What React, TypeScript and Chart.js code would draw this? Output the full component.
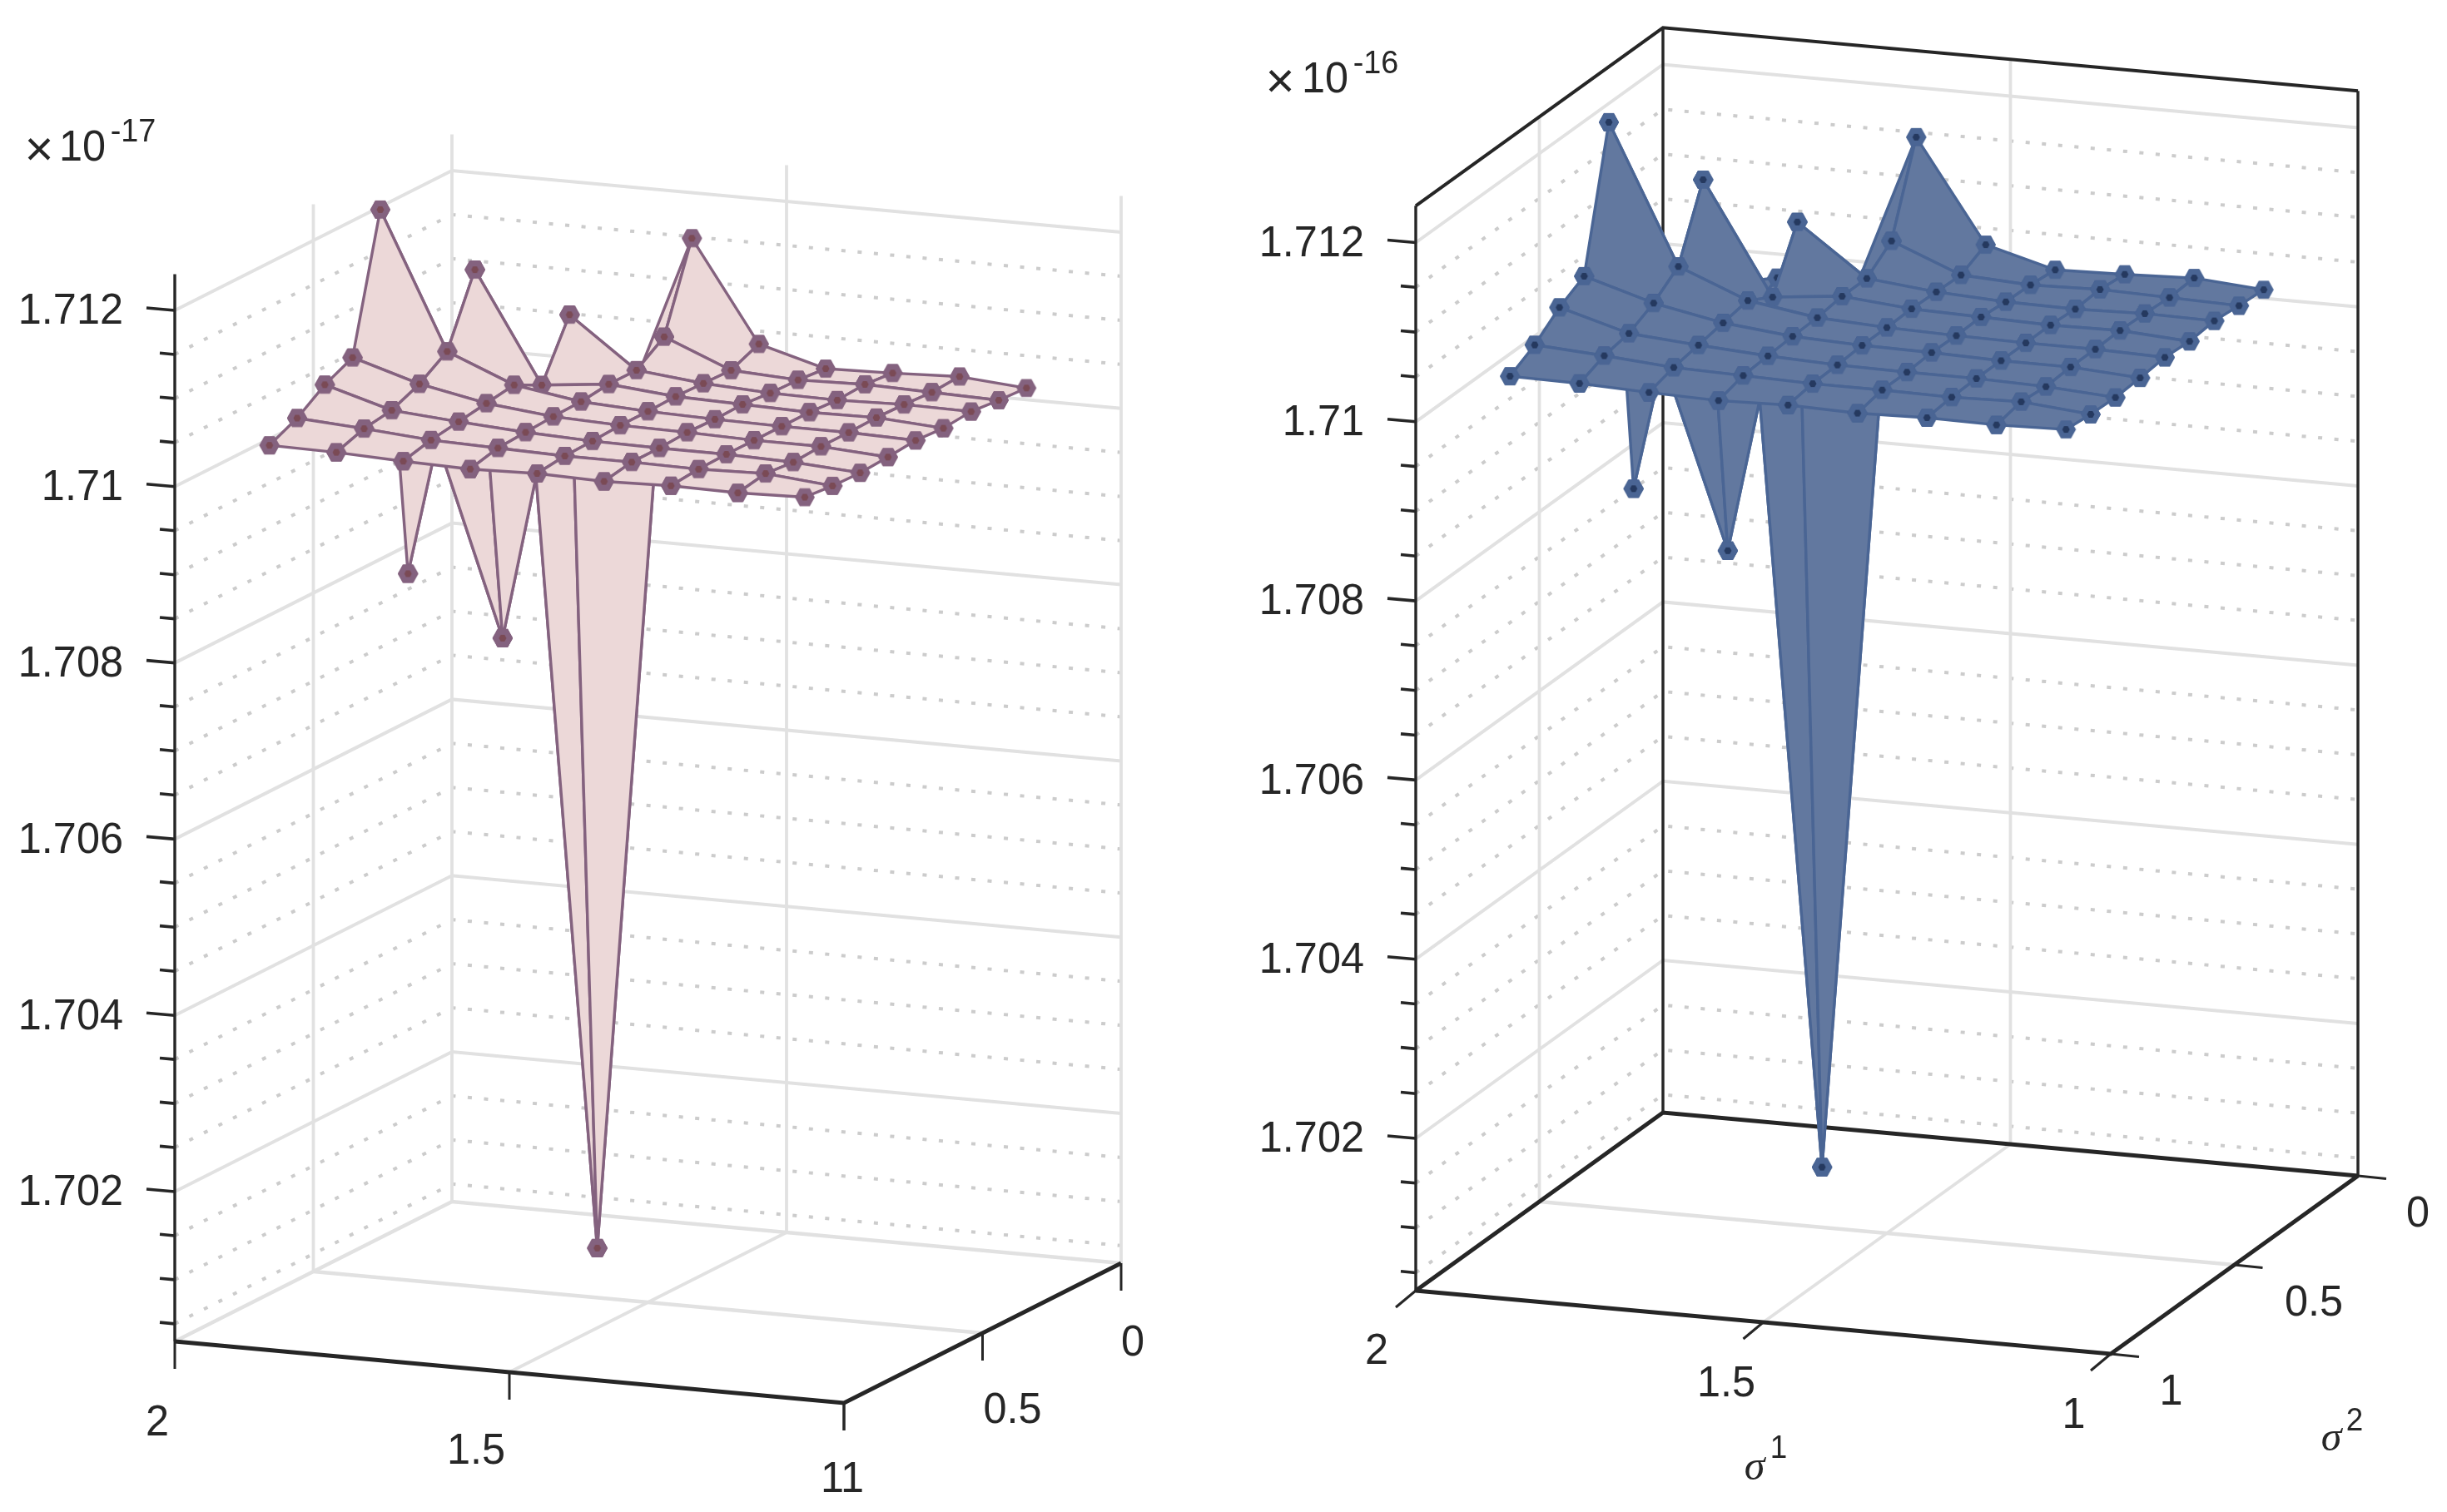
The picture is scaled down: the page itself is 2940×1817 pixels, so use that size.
import React, { useEffect, useRef } from "react";
import Chart from "chart.js/auto";
import { LineController } from "chart.js";

// ---------- data ----------
const sigma1Grid = [1.9, 1.8, 1.7, 1.6, 1.5, 1.4, 1.3, 1.2, 1.1];
const sigma2Grid = [0.9, 0.8, 0.7, 0.6, 0.5, 0.4, 0.3, 0.2, 0.1];

// one row per sigma2 value, one column per sigma1 value (mantissa of the axis multiplier)
const row0 = [1.71038, 1.71037, 1.71034, 1.71032, 1.71034, 1.71032, 1.71034, 1.71033, 1.71035];
const row1 = [1.71053, 1.71048, 1.71042, 1.7104, 1.71038, 1.71038, 1.71037, 1.71039, 1.71032];
const row2 = [1.71075, 1.71053, 1.71047, 1.71042, 1.71039, 1.71038, 1.71038, 1.71036, 1.71031];
const row3 = [1.7109, 1.71067, 1.71052, 1.71044, 1.71041, 1.7104, 1.71038, 1.71038, 1.71033];
const row4 = [1.71242, 1.71088, 1.71057, 1.71045, 1.71041, 1.71039, 1.71038, 1.71038, 1.71036];
const row5 = [1.70813, 1.71165, 1.71041, 1.71049, 1.71042, 1.7104, 1.71038, 1.71039, 1.71034];
const row6 = [1.70953, 1.70731, 1.71105, 1.71049, 1.71041, 1.71037, 1.71036, 1.71038, 1.71037];
const row7 = [1.7099, 1.70979, 1.7003, 1.71071, 1.7104, 1.71036, 1.71038, 1.71036, 1.71034];
const row8 = [1.7098, 1.70996, 1.70967, 1.71167, 1.71054, 1.71033, 1.71035, 1.71038, 1.71032];
const surfaceRows = [row0, row1, row2, row3, row4, row5, row6, row7, row8];

const zMajorTicks = [1.702, 1.704, 1.706, 1.708, 1.71, 1.712];
const zMajorLabels = ["1.702", "1.704", "1.706", "1.708", "1.71", "1.712"];
const zMinorTicks = [1.7005, 1.701, 1.7015, 1.7025, 1.703, 1.7035, 1.7045, 1.705, 1.7055, 1.7065, 1.707, 1.7075, 1.7085, 1.709, 1.7095, 1.7105, 1.711, 1.7115];
const sigma1Ticks = [2, 1.5, 1];
const sigma1Labels = ["2", "1.5", "1"];
const sigma2Ticks = [1, 0.5, 0];
const sigma2Labels = ["1", "0.5", "0"];
const zMin = 1.7003;
const zMax = 1.71241;

// ---------- panels (styles and view of the 3D box) ----------
const leftPanel = {
  range: [0, 1470],
  ox: 210, oy: 1432, ux: 804, uy: 74, vx: 333, vy: -168, zs: 105900,
  fill: "#ECD8D8", edge: "#84627F", markerInner: "#7A4A55",
  box: false,
  zTick: [-34, -3], zMinor: [-18, -1.7],
  s1Tick: [0, 33], s2Tick: [0, 33],
  s1Off: [[-21, 97], [-40, 94], [-14, 91]],
  s2Off: [[10, 91], [36, 92], [14, 95]],
  exponent: "-17",
  exp: { times: [47, 182], ten: [99, 179], sup: [160, 159] },
  axisLabels: false,
};
const rightPanel = {
  range: [1470, 2940],
  ox: 1701, oy: 1368, ux: 835, uy: 76, vx: 297, vy: -214, zs: 107650,
  fill: "#62789F", edge: "#4A6594", markerInner: "#25395F",
  box: true,
  zTick: [-34, -3], zMinor: [-18, -1.7],
  s1Tick: [-24, 20], s2Tick: [34, 3.5],
  s1Off: [[-47, 72], [-44.5, 72.4], [-44.5, 72.4]],
  s2Off: [[72.5, 44.4], [95.5, 44.4], [72, 44.4]],
  exponent: "-16",
  exp: { times: [1538, 100], ten: [1592, 97], sup: [1653, 77] },
  axisLabels: true,
};

const INK = "#262626";
const GRID = "#E1E1E1";
const DOTS = "#CCCCCC";
const FONT = '"Liberation Sans", Arial, sans-serif';

type Panel = typeof leftPanel;

function project(p: Panel, s1: number, s2: number, z: number) {
  const u = 2 - s1;
  const v = 1 - s2;
  return {
    x: p.ox + u * p.ux + v * p.vx,
    y: p.oy + u * p.uy + v * p.vy - (z - 1.702) * p.zs,
  };
}

// Filled quadrilateral of the surface: fills the polygon of its own points, then lets LineController draw outline and markers.
class SurfacePatchController extends LineController {
  static id = "surfacePatch";
  draw() {
    const pts = this.getMeta().data as any[];
    const ctx = this.chart.ctx;
    ctx.save();
    ctx.beginPath();
    pts.forEach((pt, k) => (k ? ctx.lineTo(pt.x, pt.y) : ctx.moveTo(pt.x, pt.y)));
    ctx.closePath();
    ctx.fillStyle = (this.getDataset() as any).patchFill;
    ctx.fill();
    ctx.restore();
    super.draw();
  }
}
Chart.register(SurfacePatchController);

function hexagonMarker(p: Panel) {
  const c = document.createElement("canvas");
  c.width = 28;
  c.height = 28;
  const g = c.getContext("2d")!;
  const hex = (r: number, color: string) => {
    g.beginPath();
    for (let a = 0; a < 6; a++) {
      const t = (a * Math.PI) / 3;
      g.lineTo(14 + r * Math.cos(t), 14 + 1.03 * r * Math.sin(t));
    }
    g.closePath();
    g.fillStyle = color;
    g.fill();
  };
  hex(12, p.edge);
  hex(4.5, p.markerInner);
  return c;
}

function line(points: { x: number; y: number }[], color: string, width: number, dash: number[] = []) {
  return {
    type: "line" as const,
    data: points,
    borderColor: color,
    borderWidth: width,
    borderDash: dash,
    pointRadius: 0,
    fill: false,
    tension: 0,
  };
}

function buildDatasets(p: Panel) {
  const ds: any[] = [];
  const at = (s1: number, s2: number, z: number) => project(p, s1, s2, z);
  // walls: horizontal lines
  const wall = (z: number, color: string, w: number, dash: number[] = []) =>
    ds.push(line([at(2, 1, z), at(2, 0, z), at(1, 0, z)], color, w, dash));
  zMinorTicks.forEach((z) => wall(z, DOTS, 4, [5, 14.6]));
  zMajorTicks.forEach((z) => wall(z, GRID, 4));
  // walls: vertical lines
  const vert = (s1: number, s2: number) => ds.push(line([at(s1, s2, zMin), at(s1, s2, zMax)], GRID, 3.8));
  vert(2, 0.5);
  vert(1.5, 0);
  if (!p.box) {
    vert(2, 0);
    vert(1, 0);
  }
  // floor
  ds.push(line([at(1.5, 1, zMin), at(1.5, 0, zMin)], GRID, 3.8));
  ds.push(line([at(2, 0.5, zMin), at(1, 0.5, zMin)], GRID, 4.4));
  if (!p.box) {
    ds.push(line([at(2, 1, zMin), at(2, 0, zMin), at(1, 0, zMin)], GRID, 4.4));
  } else {
    ds.push(line([at(2, 1, zMin), at(2, 0, zMin), at(1, 0, zMin)], INK, 5));
    ds.push(line([at(2, 1, zMax), at(2, 0, zMax), at(1, 0, zMax)], INK, 4));
    ds.push(line([at(2, 0, zMin), at(2, 0, zMax)], INK, 3.4));
    ds.push(line([at(1, 0, zMin), at(1, 0, zMax)], INK, 3.4));
  }
  // axes
  ds.push(line([at(2, 1, zMin), at(2, 1, zMax)], INK, 3.4));
  ds.push(line([at(2, 1, zMin), at(1, 1, zMin), at(1, 0, zMin)], INK, 5));
  const tick = (o: { x: number; y: number }, d: number[], w: number) =>
    ds.push(line([o, { x: o.x + d[0], y: o.y + d[1] }], INK, w));
  zMajorTicks.forEach((z) => tick(at(2, 1, z), p.zTick, 3.6));
  zMinorTicks.forEach((z) => tick(at(2, 1, z), p.zMinor, 3.6));
  sigma1Ticks.forEach((s) => tick(at(s, 1, zMin), p.s1Tick, 3));
  sigma2Ticks.forEach((s) => tick(at(1, s, zMin), p.s2Tick, 3));
  // surface, back to front
  const marker = hexagonMarker(p);
  for (let j = sigma2Grid.length - 2; j >= 0; j--) {
    for (let i = 0; i < sigma1Grid.length - 1; i++) {
      const c = (a: number, b: number) => at(sigma1Grid[a], sigma2Grid[b], surfaceRows[b][a]);
      ds.push({
        type: "surfacePatch",
        data: [c(i, j), c(i + 1, j), c(i + 1, j + 1), c(i, j + 1), c(i, j)],
        patchFill: p.fill,
        borderColor: p.edge,
        borderWidth: 3.4,
        borderJoinStyle: "round",
        fill: false,
        tension: 0,
        pointStyle: marker,
        pointRadius: 12,
      });
    }
  }
  // Chart.js paints the first dataset on top, so the list goes front to back.
  return ds.reverse();
}

function labelsPlugin(p: Panel) {
  return {
    id: "axisText",
    afterDraw(chart: any) {
      const { ctx, scales } = chart;
      const X = (v: number) => scales.x.getPixelForValue(v);
      const Y = (v: number) => scales.y.getPixelForValue(v);
      ctx.save();
      ctx.fillStyle = INK;
      ctx.textBaseline = "middle";
      // the reference's type is a little narrower than Liberation Sans
      const put = (t: string, x: number, y: number, font: string, align: CanvasTextAlign = "center", sx = 0.97) => {
        ctx.save();
        ctx.translate(X(x), Y(y));
        ctx.scale(sx, 1);
        ctx.font = font;
        ctx.textAlign = align;
        ctx.fillText(t, 0, 0);
        ctx.restore();
      };
      const main = `52px ${FONT}`;
      zMajorTicks.forEach((z, k) => {
        const q = project(p, 2, 1, z);
        put(zMajorLabels[k], q.x - 62, q.y + 2, main, "right");
      });
      sigma1Ticks.forEach((s, k) => {
        const q = project(p, s, 1, zMin);
        put(sigma1Labels[k], q.x + p.s1Off[k][0], q.y + p.s1Off[k][1] + 2, main);
      });
      sigma2Ticks.forEach((s, k) => {
        const q = project(p, 1, s, zMin);
        put(sigma2Labels[k], q.x + p.s2Off[k][0], q.y + p.s2Off[k][1] + 2, main);
      });
      put("\u00D7", p.exp.times[0], p.exp.times[1], `60px ${FONT}`, "center", 1);
      put("10", p.exp.ten[0], p.exp.ten[1], main);
      put(p.exponent, p.exp.sup[0], p.exp.sup[1], `39px ${FONT}`);
      if (p.axisLabels) {
        const sigma = `italic 50px "Liberation Serif", serif`;
        put("\u03C3", 2108, 1765, sigma, "center", 1);
        put("1", 2137, 1742, `38px ${FONT}`);
        put("\u03C3", 2801, 1730, sigma, "center", 1);
        put("2", 2829, 1709, `38px ${FONT}`);
      }
      ctx.restore();
    },
  };
}

function Panel3D({ panel, left }: { panel: Panel; left: number }) {
  const ref = useRef<HTMLCanvasElement>(null);
  useEffect(() => {
    const chart = new Chart(ref.current!, {
      type: "line",
      data: { datasets: buildDatasets(panel) },
      options: {
        responsive: false,
        animation: false,
        clip: false,
        events: [],
        layout: { padding: 0, autoPadding: false },
        plugins: { legend: { display: false }, tooltip: { enabled: false } },
        scales: {
          x: { type: "linear", display: false, min: panel.range[0], max: panel.range[1] },
          y: { type: "linear", display: false, min: 0, max: 1817, reverse: true },
        },
      },
      plugins: [labelsPlugin(panel)],
    } as any);
    return () => chart.destroy();
  }, [panel]);
  return (
    <canvas
      ref={ref}
      width={1470}
      height={1817}
      style={{ position: "absolute", left, top: 0, width: 1470, height: 1817, display: "block" }}
    />
  );
}

export default function App() {
  useEffect(() => {
    document.body.style.margin = "0";
    document.body.style.background = "#fff";
  }, []);
  return (
    <div style={{ position: "absolute", left: 0, top: 0, width: 2940, height: 1817, overflow: "hidden", background: "#fff" }}>
      <Panel3D panel={leftPanel} left={0} />
      <Panel3D panel={rightPanel} left={1470} />
    </div>
  );
}
